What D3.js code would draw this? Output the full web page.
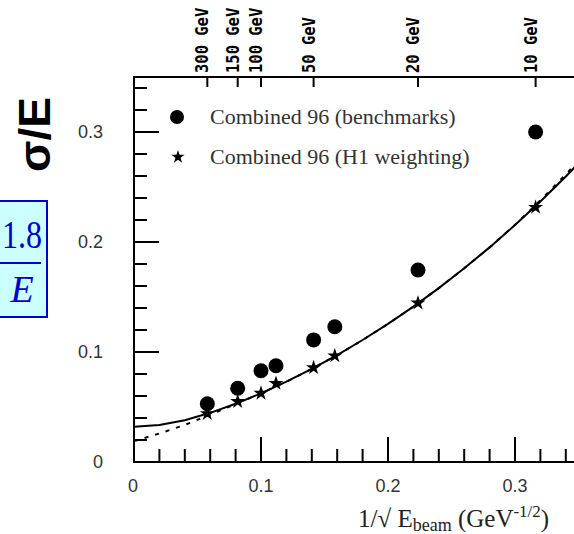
<!DOCTYPE html>
<html>
<head>
<meta charset="utf-8">
<script src="https://cdn.jsdelivr.net/npm/d3@7"></script>
<style>
  html, body { margin: 0; padding: 0; background: #fff; }
  svg { display: block; }
</style>
</head>
<body>
<svg id="chart" width="574" height="534"></svg>
<script>
// Beam energies (GeV) of the measured points
const energies = [300, 150, 100, 80, 50, 40, 20, 10];
// Relative resolution sigma/E, benchmark combination
const benchmarks = [0.053, 0.067, 0.083, 0.0875, 0.111, 0.123, 0.1745, 0.300];
// Relative resolution sigma/E, H1 weighting combination
const h1weighting = [0.044, 0.055, 0.0625, 0.0715, 0.0857, 0.0965, 0.1445, 0.2315];

// Fitted resolution curves, sampled in 1/sqrt(E)
const fitX = [0, 0.02, 0.04, 0.06, 0.08, 0.10, 0.12, 0.14, 0.16, 0.18,
              0.20, 0.22, 0.24, 0.26, 0.28, 0.30, 0.32, 0.34, 0.36];
const fitSolid = [0.032, 0.0336, 0.0380, 0.0447, 0.0529, 0.0624, 0.0730, 0.0846, 0.0972, 0.1109,
                  0.1255, 0.1413, 0.1581, 0.1761, 0.1951, 0.2154, 0.2368, 0.2595, 0.2834];
const fitDashed = [0.019, 0.0259, 0.0337, 0.0430, 0.0527, 0.0624, 0.0730, 0.0846, 0.0972, 0.1109,
                   0.1255, 0.1413, 0.1581, 0.1761, 0.1951, 0.2156, 0.2378, 0.2615, 0.2860];

// Energy markers on the top axis
const topEnergies = [300, 150, 100, 50, 20, 10];
const topLabels = ["300 GeV", "150 GeV", "100 GeV", "50 GeV", "20 GeV", "10 GeV"];

// Axis ticks
const xMajor = [0, 0.1, 0.2, 0.3];
const yMajor = [0, 0.1, 0.2, 0.3];
const xMinor = d3.range(0.02, 0.35, 0.02);
const yMinor = d3.range(0.02, 0.35, 0.02);

const legendItems = ["Combined 96 (benchmarks)", "Combined 96 (H1 weighting)"];

const svg = d3.select("#chart");

const x = d3.scaleLinear().domain([0, 0.35]).range([134, 578.5]);
const y = d3.scaleLinear().domain([0, 0.35]).range([462, 77]);
const invSqrt = e => 1 / Math.sqrt(e);

const frame = svg.append("g").attr("stroke", "#000").attr("stroke-width", 2).attr("fill", "none");
// frame lines
frame.append("line").attr("x1", x(0)).attr("x2", x(0)).attr("y1", y(0.35)).attr("y2", y(0) + 1);
frame.append("line").attr("x1", x(0) - 1).attr("x2", x(0.35)).attr("y1", y(0)).attr("y2", y(0));
frame.append("line").attr("x1", x(0) - 1).attr("x2", x(0.35)).attr("y1", y(0.35)).attr("y2", y(0.35));
frame.append("line").attr("x1", x(0.35)).attr("x2", x(0.35)).attr("y1", y(0.35)).attr("y2", y(0));

// bottom ticks (inside)
const isMajor = v => Math.abs(v * 10 - Math.round(v * 10)) < 1e-6;
frame.selectAll(".xminor").data(xMinor.filter(v => !isMajor(v))).join("line")
  .attr("x1", d => x(d)).attr("x2", d => x(d))
  .attr("y1", y(0)).attr("y2", y(0) - 13);
frame.selectAll(".xmajor").data(xMajor.filter(v => v > 0)).join("line")
  .attr("x1", d => x(d)).attr("x2", d => x(d))
  .attr("y1", y(0)).attr("y2", y(0) - 25);
// left ticks (inside)
frame.selectAll(".yminor").data(yMinor.filter(v => !isMajor(v))).join("line")
  .attr("x1", x(0)).attr("x2", x(0) + 13)
  .attr("y1", d => y(d)).attr("y2", d => y(d));
frame.selectAll(".ymajor").data(yMajor.filter(v => v > 0)).join("line")
  .attr("x1", x(0)).attr("x2", x(0) + 25)
  .attr("y1", d => y(d)).attr("y2", d => y(d));
// top energy ticks
frame.selectAll(".etick").data(topEnergies).join("line")
  .attr("x1", d => x(invSqrt(d))).attr("x2", d => x(invSqrt(d)))
  .attr("y1", y(0.35)).attr("y2", y(0.35) + 10);

// tick labels
const fmt = d => d === 0 ? "0" : d3.format(".1f")(d);
svg.append("g").selectAll("text").data(xMajor).join("text")
  .attr("x", d => x(d) - (d === 0 ? 1 : 0)).attr("y", 492)
  .attr("text-anchor", "middle")
  .attr("font-family", "Liberation Sans, Arial, sans-serif")
  .attr("font-size", 18).attr("fill", "#333")
  .text(fmt);
svg.append("g").selectAll("text").data(yMajor).join("text")
  .attr("x", 103).attr("y", d => y(d) + 6)
  .attr("text-anchor", "end")
  .attr("font-family", "Liberation Sans, Arial, sans-serif")
  .attr("font-size", 18).attr("fill", "#333")
  .text(fmt);

// top energy labels, reading upward from the axis (glyphs stretched a little across)
svg.append("g").selectAll("text").data(topEnergies).join("text")
  .attr("transform", d => `translate(${x(invSqrt(d)) + 1},73) rotate(-90) scale(1,1.15)`)
  .attr("text-anchor", "start")
  .attr("font-family", "DejaVu Sans Mono, monospace")
  .attr("font-weight", "bold")
  .attr("font-size", 15.5)
  .attr("fill", "#000")
  .text((d, i) => topLabels[i]);

// fit curves
const line = d3.line().x((d, i) => x(fitX[i])).y(d => y(d));
svg.append("clipPath").attr("id", "plotclip")
  .append("rect").attr("x", x(0)).attr("y", y(0.35)).attr("width", x(0.35) - x(0)).attr("height", y(0) - y(0.35));
svg.append("path").datum(fitDashed)
  .attr("clip-path", "url(#plotclip)")
  .attr("d", line).attr("fill", "none").attr("stroke", "#000")
  .attr("stroke-width", 2).attr("stroke-dasharray", "4,7");
svg.append("path").datum(fitSolid)
  .attr("clip-path", "url(#plotclip)")
  .attr("d", line).attr("fill", "none").attr("stroke", "#000")
  .attr("stroke-width", 2);

// data points
svg.append("g").selectAll("circle").data(benchmarks).join("circle")
  .attr("cx", (d, i) => x(invSqrt(energies[i])))
  .attr("cy", d => y(d))
  .attr("r", 7.5).attr("fill", "#000");
const star = d3.symbol().type(d3.symbolStar).size(70);
svg.append("g").selectAll("path").data(h1weighting).join("path")
  .attr("transform", (d, i) => `translate(${x(invSqrt(energies[i]))},${y(d)})`)
  .attr("d", star).attr("fill", "#000");

// legend
const lg = svg.append("g");
lg.append("circle").attr("cx", 177).attr("cy", 117).attr("r", 7).attr("fill", "#000");
lg.append("path").attr("transform", "translate(178,157)")
  .attr("d", d3.symbol().type(d3.symbolStar).size(55)).attr("fill", "#000");
lg.selectAll("text").data(legendItems).join("text")
  .attr("x", 210).attr("y", (d, i) => 124 + i * 40)
  .attr("font-family", "Liberation Serif, Times New Roman, serif")
  .attr("font-size", 22).attr("fill", "#333")
  .text(d => d);

// x-axis title
const xt = svg.append("text")
  .attr("x", 358).attr("y", 527)
  .attr("font-family", "Liberation Serif, Times New Roman, serif")
  .attr("font-size", 25).attr("fill", "#222");
xt.append("tspan").text("1/\u221A E");
xt.append("tspan").attr("font-size", 18).attr("dy", 4).text("beam");
xt.append("tspan").attr("dy", -4).text(" (GeV");
xt.append("tspan").attr("font-size", 17).attr("dy", -10).text("-1/2");
xt.append("tspan").attr("dy", 10).text(")");

// y-axis title
svg.append("text")
  .attr("transform", "translate(50,172) rotate(-90)")
  .attr("font-family", "Liberation Sans, Arial, sans-serif")
  .attr("font-weight", "bold").attr("font-size", 44)
  .attr("textLength", 75).attr("lengthAdjust", "spacingAndGlyphs")
  .attr("fill", "#000")
  .text("\u03C3/E");

// stochastic-term annotation box
const box = svg.append("g");
box.append("rect").attr("x", -4).attr("y", 201).attr("width", 51).attr("height", 116)
  .attr("fill", "#ccffff").attr("stroke", "#0000cc").attr("stroke-width", 2);
box.append("text").attr("x", 22).attr("y", 248).attr("text-anchor", "middle")
  .attr("font-family", "Liberation Serif, Times New Roman, serif")
  .attr("font-size", 40).attr("fill", "#0000cc")
  .attr("textLength", 40).attr("lengthAdjust", "spacingAndGlyphs")
  .text("1.8");
box.append("line").attr("x1", 0).attr("x2", 41).attr("y1", 263).attr("y2", 263)
  .attr("stroke", "#0000cc").attr("stroke-width", 2);
box.append("text").attr("x", 22).attr("y", 302).attr("text-anchor", "middle")
  .attr("font-family", "Liberation Serif, Times New Roman, serif")
  .attr("font-style", "italic")
  .attr("font-size", 38).attr("fill", "#0000cc")
  .text("E");
</script>
</body>
</html>
